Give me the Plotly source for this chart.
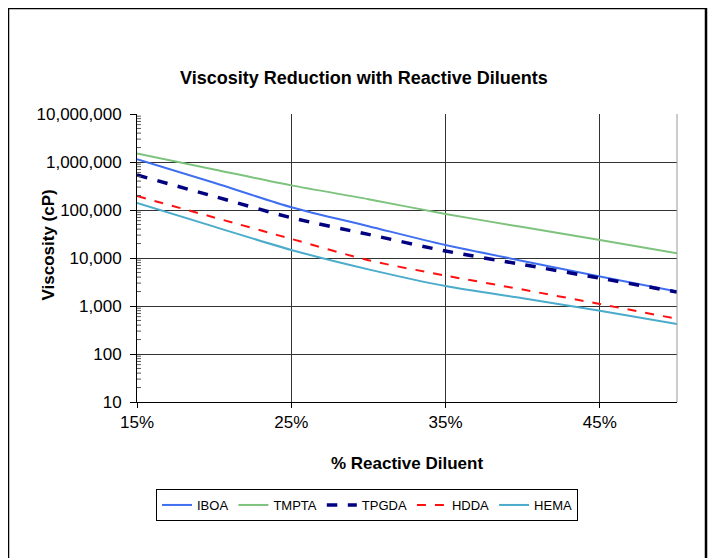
import math
import plotly.graph_objects as go

diluent_pct = [15, 20, 25, 30, 35, 40, 45, 50]
iboa = [1150000, 370000, 114000, 46000, 18600, 8700, 4100, 2000]
tmpta = [1500000, 700000, 326000, 168000, 82600, 44000, 23700, 12500]
tpgda = [535000, 192000, 69000, 31000, 14000, 7300, 3800, 1950]
hdda = [195000, 70000, 25000, 9000, 4300, 2200, 1100, 540]
hema = [141000, 45000, 14700, 5800, 2600, 1450, 800, 420]

y_tickvals = [10, 100, 1000, 10000, 100000, 1000000, 10000000]
y_ticktext = ["10", "100", "1,000", "10,000", "100,000", "1,000,000", "10,000,000"]
x_tickvals = [15, 25, 35, 45]
x_ticktext = ["15%", "25%", "35%", "45%"]

series = [
    ("IBOA", iboa, dict(color="#3F6FF0", width=2, dash="solid")),
    ("TMPTA", tmpta, dict(color="#7DC37D", width=2, dash="solid")),
    ("TPGDA", tpgda, dict(color="#000080", width=3.5, dash="dash")),
    ("HDDA", hdda, dict(color="#FF1010", width=2, dash="dash")),
    ("HEMA", hema, dict(color="#4AABCB", width=2, dash="solid")),
]

fig = go.Figure()
for name, vals, ln in series:
    fig.add_trace(go.Scatter(x=diluent_pct, y=vals, name=name, mode="lines",
                             line=dict(shape="spline", smoothing=0.8, **ln)))

FW, FH = 711, 550
L, R, T, B = 129, 669, 106, 394
W, H = R - L, B - T

def px(x):
    return (x - L) / W

def py(y):
    return (B - y) / H

shapes = [dict(type="rect", xref="paper", yref="paper",
               x0=px(0), x1=px(698), y0=py(570), y1=py(0),
               line=dict(color="black", width=2.5), layer="below"),
          dict(type="line", xref="paper", yref="paper", x0=1, x1=1, y0=0, y1=1,
               line=dict(color="#999999", width=1))]
# minor ticks (inside) on log y axis
for d in range(1, 7):
    for k in range(2, 10):
        yy = (d + math.log10(k) - 1) / 6
        shapes.append(dict(type="line", xref="paper", yref="paper",
                           x0=0, x1=4 / W, y0=yy, y1=yy,
                           line=dict(color="#555555", width=1)))

fig.update_layout(
    width=FW, height=FH,
    margin=dict(l=L, r=FW - R, t=T, b=FH - B),
    paper_bgcolor="white", plot_bgcolor="white",
    font=dict(family="Arial, Liberation Sans, sans-serif", size=17, color="black"),
    title=dict(text="<b>Viscosity Reduction with Reactive Diluents</b>",
               xref="container", x=356 / FW, xanchor="center",
               y=1 - 70 / FH, yanchor="middle", font=dict(size=18)),
    showlegend=True,
    legend=dict(orientation="h", x=px(359), xanchor="center", y=py(481), yanchor="top",
                bordercolor="black", borderwidth=1, font=dict(size=13),
                itemwidth=30),
    shapes=shapes,
    annotations=[dict(text="<b>Viscosity (cP)</b>", textangle=-90, showarrow=False,
                      xref="paper", yref="paper", x=px(40), y=py(237.5),
                      xanchor="center", yanchor="middle", font=dict(size=17))],
)

fig.update_xaxes(
    range=[15, 50], tickvals=x_tickvals, ticktext=x_ticktext,
    showgrid=True, gridcolor="#333333", gridwidth=1,
    showline=True, linecolor="black", linewidth=1, mirror=False,
    ticks="outside", ticklen=5, tickcolor="black",
    title=dict(text="<b>% Reactive Diluent</b>", standoff=25, font=dict(size=17)),
    zeroline=False,
)
fig.update_yaxes(
    type="log", range=[1, 7], tickvals=y_tickvals, ticktext=y_ticktext,
    showgrid=True, gridcolor="#333333", gridwidth=1,
    showline=True, linecolor="black", linewidth=1,
    ticks="outside", ticklen=6, tickcolor="black", ticklabelstandoff=5,
    zeroline=False,
)

fig.write_html("out.html")
